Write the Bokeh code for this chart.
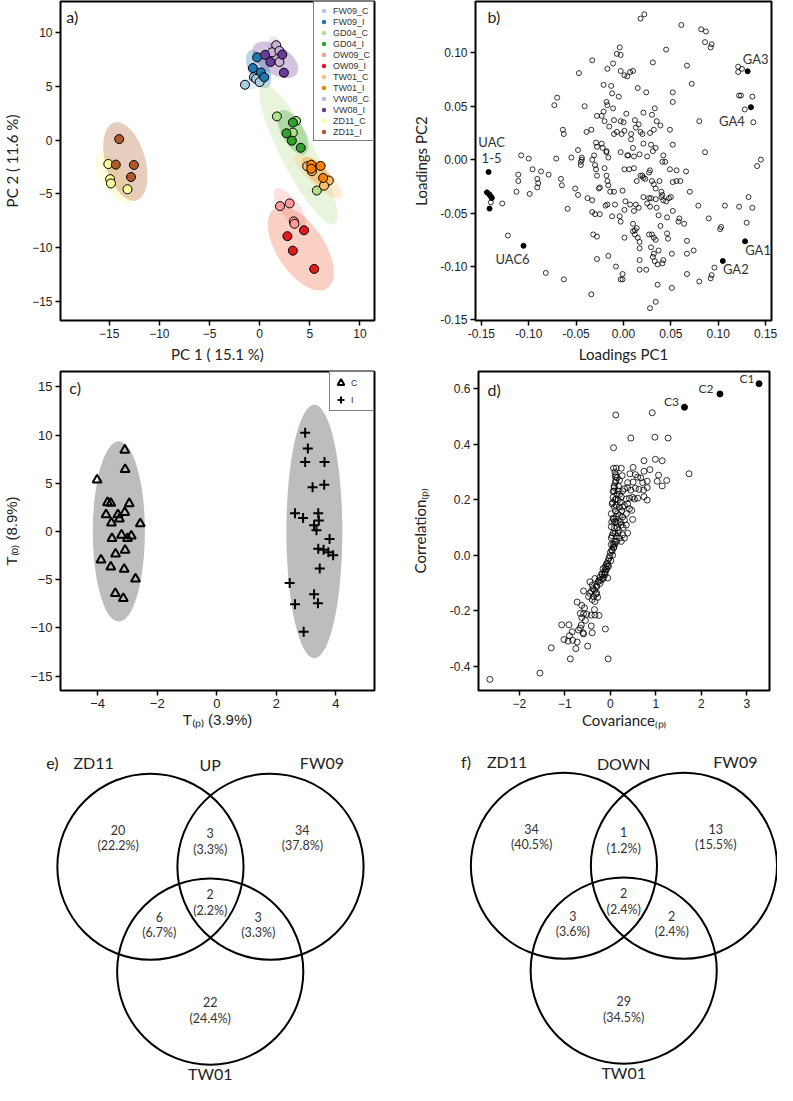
import numpy as np
from bokeh.plotting import figure
from bokeh.layouts import column, row
from bokeh.models import Range1d, FixedTicker, PrintfTickFormatter, Legend, LegendItem, Label
from bokeh.core.properties import value
from bokeh.embed import file_html
from bokeh.resources import INLINE

SANS = "Liberation Sans"
CAL = "Lato"

# ---------------- panel a data (PCA scores) ----------------
pa_groups = ["FW09_C", "FW09_I", "GD04_C", "GD04_I", "OW09_C", "OW09_I",
             "TW01_C", "TW01_I", "VW08_C", "VW08_I", "ZD11_C", "ZD11_I"]
pa_colors = ["#a6cee3", "#1f78b4", "#b2df8a", "#33a02c", "#fb9a99", "#e31a1c",
             "#fdbf6f", "#ff7f00", "#cab2d6", "#6a3d9a", "#ffff99", "#b15928"]
pa_ell_colors = ["#a6cee3", "#1f78b4", "#b2df8a", "#33a02c", "#fb9a99", "#f0603a",
                 "#fdbf6f", "#ff7f00", "#cab2d6", "#6a3d9a", "#ffff99", "#b15928"]
pa_x = [[-1.46, -0.57, -0.35, 0.0], [-0.25, -0.67, 0.13, 0.45],
        [1.72, 3.63, 3.31, 5.7], [3.31, 2.67, 3.21, 4.1],
        [2.03, 2.99, 3.4, 3.47], [2.77, 4.42, 3.31, 5.44],
        [4.74, 5.22, 6.9, 6.42], [5.15, 5.15, 6.08, 6.33],
        [1.65, 1.24, 1.97, 1.97], [0.54, 1.08, 2.26, 2.42],
        [-15.08, -14.9, -14.82, -13.17], [-14.0, -14.34, -12.53, -12.82]]
pa_y = [[5.15, 5.85, 5.7, 5.4], [7.7, 6.7, 6.3, 5.85],
        [2.2, 1.78, 0.69, -4.7], [1.63, 0.63, -0.06, -0.72],
        [-6.15, -5.9, -7.57, -7.8], [-8.95, -8.4, -10.3, -12.0],
        [-2.44, -2.9, -3.77, -4.25], [-2.29, -2.68, -2.41, -3.53],
        [8.83, 8.17, 8.3, 7.27], [7.93, 7.27, 7.96, 6.27],
        [-2.23, -3.64, -4.04, -4.58], [0.09, -2.29, -2.32, -3.44]]
# group ellipses: centre, tip of major axis, minor/major ratio
ell_cx = [-0.35, -0.1, 3.87, 3.31, 2.99, 4.1, 5.85, 5.7, 1.65, 1.56, -14.5, -13.39]
ell_cy = [5.51, 6.6, -1.33, 0.72, -6.3, -10.1, -3.35, -2.98, 8.26, 7.47, -3.59, -1.99]
ell_tx = [1.08, -0.98, 0.29, 2.1, 1.56, 1.45, 3.53, 4.33, 1.27, -0.6, -16.1, -14.5]
ell_ty = [6.15, 8.32, 5.15, 2.74, -4.55, -6.4, -1.38, -1.69, 9.67, 8.74, -1.27, 1.63]
ell_r = [0.4, 0.5, 0.22, 0.45, 0.4, 0.5, 0.3, 0.45, 0.5, 0.55, 0.4, 0.5]

# ---------------- panel b data (loadings) ----------------
b_pts = [
 (0.018,0.132),(0.022,0.136),(0.061,0.126),(0.082,0.122),(0.087,0.120),(0.086,0.110),(0.093,0.108),(0.092,0.105),
 (0.045,0.103),(-0.004,0.105),(-0.033,0.093),(-0.007,0.099),(-0.003,0.098),(0.031,0.091),(0.067,0.088),(0.121,0.087),
 (0.125,0.085),(0.121,0.082),(-0.047,0.081),(-0.017,0.085),(-0.011,0.090),(-0.003,0.083),(0.001,0.079),(0.004,0.078),
 (0.007,0.082),(0.010,0.083),(0.072,0.071),(-0.021,0.070),(-0.013,0.069),(0.015,0.067),(0.024,0.063),(-0.012,0.062),
 (0.052,0.063),(0.052,0.054),(-0.005,0.059),(0.122,0.060),(0.124,0.060),(0.136,0.059),(0.128,0.047),(0.137,0.035),
 (-0.070,0.058),(-0.073,0.051),(-0.041,0.050),(-0.018,0.054),(-0.017,0.051),(-0.011,0.048),(-0.021,0.045),(0.003,0.043),
 (0.033,0.048),(-0.028,0.041),(-0.023,0.041),(-0.020,0.036),(-0.015,0.031),(-0.010,0.037),(-0.003,0.036),(0.000,0.035),
 (0.012,0.037),(0.013,0.030),(0.021,0.044),(0.030,0.042),(0.035,0.036),(0.039,0.032),(0.049,0.028),(0.080,0.036),
 (-0.064,0.028),(-0.063,0.024),(-0.039,0.026),(-0.034,0.028),(-0.010,0.024),(-0.007,0.026),(-0.002,0.024),(0.001,0.027),
 (0.008,0.024),(0.018,0.026),(0.020,0.024),(0.028,0.025),(0.032,0.028),(0.016,0.033),(-0.029,0.016),(-0.028,0.012),
 (-0.023,0.015),(-0.018,0.008),(0.008,0.019),(0.021,0.015),(0.029,0.014),(0.031,0.008),(0.034,0.011),(0.052,0.014),
 (0.086,0.007),(-0.108,0.004),(-0.100,0.001),(-0.071,0.001),(-0.055,0.002),(-0.048,0.009),(-0.044,0.002),(-0.044,0.000),
 (-0.045,-0.002),(-0.045,-0.005),(-0.033,0.000),(-0.031,0.004),(-0.030,-0.005),(-0.022,0.011),(-0.018,0.007),(-0.016,0.002),
 (-0.003,0.007),(0.004,0.004),(0.005,0.004),(0.010,0.011),(0.011,0.003),(0.017,0.005),(0.025,0.003),(0.042,0.004),
 (0.044,-0.002),(0.041,-0.002),(0.145,0.000),(0.141,-0.006),(-0.111,-0.014),(-0.111,-0.020),(-0.113,-0.030),(-0.099,-0.032),
 (-0.096,-0.009),(-0.087,-0.011),(-0.091,-0.018),(-0.090,-0.022),(-0.091,-0.026),(-0.079,-0.014),(-0.066,-0.018),(-0.065,-0.024),
 (-0.051,-0.027),(-0.048,-0.033),(-0.038,-0.036),(-0.033,-0.038),(-0.029,-0.009),(-0.028,-0.015),(-0.026,-0.027),(-0.025,-0.026),
 (-0.020,-0.008),(-0.018,-0.015),(-0.017,-0.020),(-0.016,-0.024),(-0.014,-0.030),(-0.010,-0.030),(-0.001,-0.029),(0.001,-0.009),
 (0.006,-0.009),(0.011,-0.008),(0.014,-0.020),(0.018,-0.015),(0.020,-0.015),(0.021,-0.017),(0.023,-0.018),(0.027,-0.012),
 (0.028,-0.010),(0.030,-0.020),(0.032,-0.023),(0.034,-0.027),(0.038,-0.020),(0.040,-0.030),(0.041,-0.033),(0.049,-0.009),
 (0.052,-0.021),(0.056,-0.020),(0.060,-0.020),(0.056,-0.010),(0.066,-0.011),(0.070,-0.030),(-0.059,-0.046),(-0.033,-0.049),
 (-0.030,-0.051),(-0.025,-0.051),(-0.019,-0.043),(-0.017,-0.042),(-0.012,-0.053),(-0.009,-0.042),(-0.004,-0.053),(-0.003,-0.058),
 (0.001,-0.047),(0.002,-0.039),(0.007,-0.042),(0.011,-0.048),(0.010,-0.060),(0.013,-0.042),(0.016,-0.045),(0.021,-0.035),
 (0.025,-0.041),(0.027,-0.036),(0.029,-0.036),(0.028,-0.044),(0.034,-0.037),(0.035,-0.045),(0.037,-0.052),(0.040,-0.035),
 (0.042,-0.038),(0.045,-0.039),(0.048,-0.036),(0.050,-0.035),(0.052,-0.048),(0.046,-0.054),(0.059,-0.055),(0.058,-0.058),
 (0.064,-0.060),(0.039,-0.062),(0.079,-0.043),(0.090,-0.055),(0.102,-0.065),(0.103,-0.063),(0.107,-0.043),(0.122,-0.044),
 (0.132,-0.035),(0.130,-0.059),(0.136,-0.045),(-0.122,-0.071),(-0.032,-0.070),(-0.028,-0.072),(0.001,-0.073),(0.010,-0.067),
 (0.012,-0.070),(0.015,-0.073),(0.017,-0.077),(0.027,-0.070),(0.030,-0.070),(0.032,-0.073),(0.034,-0.075),(0.046,-0.069),
 (0.047,-0.074),(0.067,-0.076),(0.074,-0.085),(0.012,-0.066),(0.014,-0.064),(-0.028,-0.093),(-0.016,-0.090),(-0.008,-0.100),
 (-0.001,-0.107),(-0.003,-0.112),(-0.001,-0.112),(0.017,-0.094),(0.017,-0.103),(0.024,-0.103),(0.017,-0.083),(0.029,-0.082),
 (0.032,-0.088),(0.031,-0.091),(0.033,-0.095),(0.036,-0.098),(0.042,-0.094),(0.041,-0.097),(0.037,-0.085),(0.051,-0.088),
 (0.067,-0.088),(0.067,-0.107),(0.080,-0.114),(0.093,-0.108),(0.092,-0.111),(0.096,-0.101),(0.036,-0.117),(0.051,-0.120),
 (-0.082,-0.106),(-0.063,-0.112),(-0.034,-0.126),(0.028,-0.139),(0.034,-0.133),(-0.140,-0.040),(-0.128,-0.041)]
b_x = [p[0] for p in b_pts]
b_y = [p[1] for p in b_pts]
b_fx = [-0.1424, -0.1441, -0.1417, -0.1400, -0.1390, -0.1414, -0.1055, 0.131, 0.1345, 0.1283, 0.1048]
b_fy = [-0.0115, -0.0306, -0.0324, -0.0345, -0.0358, -0.0458, -0.0806, 0.0827, 0.0491, -0.0764, -0.0948]
b_lab = ["UAC", "1-5", "UAC6", "GA3", "GA4", "GA1", "GA2"]
b_lab_of = [0, 0, 6, 7, 8, 9, 10]

# ---------------- panel c data (OPLS-DA scores) ----------------
c_tx = [-4.02, -3.09, -3.08, -3.67, -3.56, -2.94, -3.72, -3.32, -3.09, -3.54, -3.27, -2.57,
        -3.20, -3.52, -2.87, -3.0, -3.08, -3.40, -3.89, -3.56, -3.11, -2.73, -3.41, -3.14]
c_ty = [5.35, 8.45, 6.43, 3.0, 2.93, 2.9, 1.75, 1.75, 1.99, 0.88, 1.31, 0.81,
        -0.37, -0.71, -0.47, -0.71, -1.95, -2.32, -2.96, -3.67, -3.91, -4.92, -6.43, -6.94]
c_ix = [2.97, 3.06, 2.97, 3.62, 3.22, 3.61, 2.63, 2.90, 3.41, 3.43, 3.27, 3.35, 3.79, 3.41,
        3.59, 3.75, 3.91, 3.46, 2.45, 3.27, 2.63, 3.40, 2.92]
c_iy = [10.24, 8.62, 7.2, 7.2, 4.58, 4.85, 1.89, 1.41, 1.89, 1.14, 0.64, 0.13, -0.77, -1.78,
        -1.89, -2.15, -2.46, -3.84, -5.35, -6.5, -7.54, -7.44, -10.4]
c_ell_x = [-3.29, 3.28]
c_ell_y = [0.0, 0.0]
c_ell_w = [1.75, 1.88]
c_ell_h = [18.7, 26.3]

# ---------------- panel d data (S-plot) ----------------
d_pts = [
 (0.12,0.506),(0.92,0.514),(0.45,0.423),(0.98,0.426),(1.27,0.423),(0.07,0.388),(0.74,0.341),(0.99,0.346),(1.14,0.341),(1.73,0.294),
 (0.07,0.314),(0.13,0.314),(0.24,0.314),(0.50,0.317),(0.11,0.283),(0.26,0.287),(0.43,0.294),(0.55,0.291),(0.60,0.282),(0.67,0.279),
 (0.74,0.303),(0.87,0.309),(1.06,0.289),(1.24,0.27),(1.03,0.267),(1.14,0.25),(0.81,0.267),(0.71,0.262),(0.50,0.264),(0.38,0.262),
 (0.11,0.262),(0.09,0.244),(0.17,0.232),(0.27,0.232),(0.31,0.240),(0.38,0.244),(0.45,0.235),(0.55,0.242),(0.63,0.238),(0.73,0.235),
 (0.81,0.244),(0.08,0.232),(0.06,0.209),(0.13,0.203),(0.24,0.211),(0.35,0.203),(0.42,0.206),(0.49,0.209),(0.53,0.203),(0.60,0.206),
 (0.74,0.211),(0.81,0.199),(0.04,0.185),(0.09,0.174),(0.20,0.174),(0.27,0.174),(0.31,0.179),(0.38,0.185),(0.42,0.168),(0.47,0.162),
 (0.20,0.144),(0.27,0.138),(0.35,0.150),(0.49,0.129),(0.02,0.150),(0.06,0.133),(0.09,0.121),(0.17,0.115),(0.24,0.109),(0.31,0.127),
 (0.35,0.109),(0.09,0.097),(0.02,0.103),(0.06,0.080),(0.17,0.080),(0.27,0.074),(0.38,0.080),(0.31,0.062),(0.20,0.062),(0.13,0.068),
 (0.02,0.062),(0.09,0.050),(0.02,0.039),(0.07,0.027),(0.04,0.015),(-0.01,-0.002),(-0.05,-0.020),(-0.09,-0.032),(-0.12,-0.043),
 (-0.16,-0.049),(-0.06,-0.038),(-0.11,-0.061),(-0.19,-0.067),(-0.23,-0.079),(-0.16,-0.084),(-0.06,-0.082),(-0.27,-0.096),
 (-0.45,-0.096),(-0.34,-0.084),(-0.40,-0.108),(-0.30,-0.114),(-0.23,-0.102),(-0.35,-0.126),(-0.45,-0.137),(-0.30,-0.137),
 (-0.37,-0.149),(-0.48,-0.149),(-0.28,-0.152),(-0.34,-0.167),(-0.59,-0.129),(-0.73,-0.169),(-0.63,-0.181),(-0.57,-0.190),
 (-0.35,-0.196),(0.10,0.30),(0.12,0.27),(0.08,0.25),(0.14,0.22),(0.05,0.19),(0.11,0.16),(0.07,0.13),(0.15,0.10),(0.04,0.07),
 (0.10,0.04),(0.03,0.02),(0.0,0.01),(-0.03,-0.01),(-0.07,-0.03),(-0.1,-0.05),(-0.13,-0.06),(-0.18,-0.07),(-0.2,-0.09),
 (-0.25,-0.09),(-0.31,-0.11),(-0.38,-0.12),(-0.42,-0.13),(-0.32,-0.14),(-0.4,-0.16),
 (0.15,0.28),(0.18,0.25),(0.20,0.22),(0.22,0.19),(0.13,0.18),(0.16,0.15),(0.12,0.12),(0.18,0.09),(0.10,0.08),(0.14,0.05),
 (0.08,0.03),(0.05,0.00),(0.01,-0.02),(-0.04,-0.04),(-0.08,-0.05),(-0.12,-0.07),(-0.15,-0.08),(0.20,0.27),(0.17,0.20),
 (0.25,0.16),(0.22,0.12),(0.28,0.10),(0.24,0.05),(0.12,0.29),(0.06,0.23),(0.10,0.20),(0.03,0.12),(0.13,0.14),(0.06,0.04),
 (-0.42,-0.216),(-0.34,-0.216),(-0.25,-0.217),(-0.66,-0.210),(-0.59,-0.211),(-0.52,-0.213),(-0.63,-0.225),(-0.55,-0.235),
 (-1.07,-0.251),(-0.91,-0.251),(-0.64,-0.252),(-0.42,-0.255),(-0.66,-0.263),(-0.70,-0.270),(-0.84,-0.276),(-0.60,-0.280),
 (-0.59,-0.284),(-0.40,-0.280),(-0.11,-0.266),(-0.90,-0.290),(-1.02,-0.304),(-0.93,-0.310),(-0.83,-0.307),(-0.73,-0.313),
 (-0.50,-0.328),(-1.30,-0.334),(-0.76,-0.337),(-0.88,-0.374),(-0.05,-0.374),(-1.55,-0.425),(-2.65,-0.448)]
d_x = [p[0] for p in d_pts]
d_y = [p[1] for p in d_pts]
d_fx = [3.27, 2.41, 1.63]
d_fy = [0.619, 0.582, 0.534]
d_lab = ["C1", "C2", "C3"]

# ---------------- panels e/f data (Venn) ----------------
venn_sets = ["ZD11", "FW09", "TW01"]
venn_regions = ["ZD11", "ZD11&FW09", "FW09", "ZD11&FW09&TW01", "ZD11&TW01", "FW09&TW01", "TW01"]
up_counts = [20, 3, 34, 2, 6, 3, 22]
down_counts = [34, 1, 13, 2, 3, 2, 29]

NAN = np.array([np.nan])


# ---------------- helpers ----------------
def mkfig(w, h, l, r, t, b, xr, yr):
    p = figure(width=w, height=h, x_range=Range1d(*xr), y_range=Range1d(*yr),
               output_backend="svg", toolbar_location=None,
               min_border_left=l, min_border_right=r, min_border_top=t, min_border_bottom=b)
    p.outline_line_color = "black"
    p.outline_line_width = 2
    p.outline_line_alpha = 1
    p.xgrid.visible = False
    p.ygrid.visible = False
    p.background_fill_color = "white"
    return p


def style_axes(p, xticks, yticks, tick_size, xlab, ylab, xstand, ystand, lab_font=CAL, xfmt=None, yfmt=None):
    p.xaxis.ticker = FixedTicker(ticks=xticks)
    p.yaxis.ticker = FixedTicker(ticks=yticks)
    if xfmt:
        p.xaxis.formatter = PrintfTickFormatter(format=xfmt)
    if yfmt:
        p.yaxis.formatter = PrintfTickFormatter(format=yfmt)
    p.xaxis.axis_label = xlab
    p.yaxis.axis_label = ylab
    p.xaxis.axis_label_standoff = xstand
    p.yaxis.axis_label_standoff = ystand
    for ax in (p.xaxis[0], p.yaxis[0]):
        ax.axis_line_color = None
        ax.major_tick_out = 5
        ax.major_tick_in = 0
        ax.minor_tick_out = 0
        ax.minor_tick_in = 0
        ax.major_tick_line_width = 1.5
        ax.major_tick_line_color = "black"
        ax.major_label_text_font = SANS
        ax.major_label_text_font_size = tick_size
        ax.major_label_text_color = "#222222"
        ax.major_label_standoff = 3
        ax.axis_label_text_font = lab_font
        ax.axis_label_text_font_size = "15px"
        ax.axis_label_text_font_style = "normal"
        ax.axis_label_text_color = "#222222"


def panel_label(p, txt, xr, yr, fw, fh, dx, dy):
    kx = fw / (xr[1] - xr[0])
    ky = fh / (yr[1] - yr[0])
    p.add_layout(Label(x=xr[0] + dx / kx, y=yr[1] - dy / ky, text=txt, text_font=CAL,
                       text_font_size="16px", text_color="#222222",
                       text_align="left", text_baseline="middle"))


# ---------------- panel a ----------------
A_XR, A_YR = (-19.85, 11.45), (-16.8, 12.9)
A_FW, A_FH = 321, 320
pa = mkfig(392, 365, 53, 18, 1, 44, A_XR, A_YR)
style_axes(pa, [-15, -10, -5, 0, 5, 10], [-15, -10, -5, 0, 5, 10], "12px",
           "PC 1 ( 15.1 %)", "PC 2 ( 11.6 %)", 4, 8)
kx = A_FW / (A_XR[1] - A_XR[0])
ky = A_FH / (A_YR[1] - A_YR[0])
t = np.linspace(0, 2 * np.pi, 90)
exs, eys = [], []
for cx, cy, tx, ty, r in zip(ell_cx, ell_cy, ell_tx, ell_ty, ell_r):
    ux, uy = (tx - cx) * kx, (ty - cy) * ky
    vx, vy = -uy * r, ux * r
    exs.append(list(cx + (ux * np.cos(t) + vx * np.sin(t)) / kx))
    eys.append(list(cy + (uy * np.cos(t) + vy * np.sin(t)) / ky))
pa.patches(exs, eys, fill_color=pa_ell_colors, fill_alpha=0.3, line_color=None)
items = []
for g, c, xs, ys in zip(pa_groups, pa_colors, pa_x, pa_y):
    pa.scatter(xs, ys, marker="circle", size=9, fill_color=c, line_color="black", line_width=1)
    lr = pa.scatter(NAN, NAN, marker="circle", fill_color=c, line_color=None)
    items.append(LegendItem(label=g, renderers=[lr]))
leg = Legend(items=items, location="top_right", margin=0, padding=3, spacing=0,
             glyph_height=11, glyph_width=13, label_height=11, label_standoff=3,
             label_text_font=SANS, label_text_font_size="9px", label_text_color="#333333",
             border_line_color="black", border_line_width=1.5, background_fill_alpha=1)
pa.add_layout(leg)
panel_label(pa, "a)", A_XR, A_YR, A_FW, A_FH, 6, 15)

# ---------------- panel b ----------------
B_XR, B_YR = (-0.1562, 0.1562), (-0.1505, 0.148)
pb = mkfig(385, 365, 83, 6, 1, 44, B_XR, B_YR)
style_axes(pb, [-0.15, -0.10, -0.05, 0.0, 0.05, 0.10, 0.15], [-0.15, -0.10, -0.05, 0.0, 0.05, 0.10],
           "12px", "Loadings PC1", "Loadings PC2", 4, 7, xfmt="%.2f", yfmt="%.2f")
pb.scatter(b_x, b_y, marker="circle", size=5, fill_color=None, line_color="black", line_width=0.8)
pb.scatter(b_fx, b_fy, marker="circle", size=5, fill_color="black", line_color="black")
b_offx = [3, 3, -11, 8, -19, 13, 13]
b_offy = [-30, -14, 13, -12, 14, 9, 8]
pb.text(x=[b_fx[i] for i in b_lab_of], y=[b_fy[i] for i in b_lab_of], text=b_lab,
        x_offset=b_offx, y_offset=b_offy, text_align="center", text_baseline="middle",
        text_font=value(CAL), text_font_size="13px", text_color="#333333")
panel_label(pb, "b)", B_XR, B_YR, 296, 320, 12, 15)

# ---------------- panel c ----------------
C_XR, C_YR = (-5.25, 5.3), (-16.5, 16.6)
pc = mkfig(392, 366, 52, 18, 5, 41, C_XR, C_YR)
style_axes(pc, [-4, -2, 0, 2, 4], [-15, -10, -5, 0, 5, 10, 15], "13px",
           "T\u208d\u209a\u208e (3.9%)", "T\u208d\u2092\u208e (8.9%)", 0, 7, lab_font=SANS)
pc.ellipse(c_ell_x, c_ell_y, width=c_ell_w, height=c_ell_h, fill_color="#bfbcbd", line_color=None)
pc.scatter(c_tx, c_ty, marker="triangle", size=9, fill_color=None, line_color="black", line_width=2)
pc.scatter(c_ix, c_iy, marker="cross", size=10, line_color="black", line_width=2)
lt = pc.scatter(NAN, NAN, marker="triangle", fill_color=None, line_color="black", line_width=2)
lc = pc.scatter(NAN, NAN, marker="cross", line_color="black", line_width=2)
legc = Legend(items=[LegendItem(label="C", renderers=[lt]), LegendItem(label="I", renderers=[lc])],
              location="top_right", margin=0, padding=2, spacing=0,
              glyph_height=17, glyph_width=17, label_height=17, label_standoff=2,
              label_text_font=SANS, label_text_font_size="9px", label_text_color="#333333",
              border_line_color="black", border_line_width=1.5, background_fill_alpha=1)
pc.add_layout(legc)
panel_label(pc, "c)", C_XR, C_YR, 322, 320, 9, 16)

# ---------------- panel d ----------------
D_XR, D_YR = (-2.9, 3.5), (-0.488, 0.663)
pd_ = mkfig(385, 366, 86, 8, 6, 40, D_XR, D_YR)
style_axes(pd_, [-2, -1, 0, 1, 2, 3], [-0.4, -0.2, 0.0, 0.2, 0.4, 0.6], "12px",
           "Covariance\u208d\u209a\u208e", "Correlation\u208d\u209a\u208e", 0, 18, yfmt="%.1f")
pd_.scatter(d_x, d_y, marker="circle", size=6, fill_color=None, line_color="black", line_width=0.8)
pd_.scatter(d_fx, d_fy, marker="circle", size=6, fill_color="black", line_color="black")
pd_.text(x=d_fx, y=d_fy, text=d_lab, x_offset=[-12, -14, -13], y_offset=[-5, -5, -6],
         text_align="center", text_baseline="middle", text_font=value(CAL),
         text_font_size="12px", text_color="#333333")
panel_label(pd_, "d)", D_XR, D_YR, 291, 320, 9, 18)

# ---------------- panels e/f (Venn) ----------------
V_H = 354
V_TOP = 745
V_BOT = V_TOP + V_H / 0.98


def venn(x0, x1, w, cx, cy, counts, title, letter):
    p = figure(width=w, height=V_H, x_range=Range1d(x0, x1), y_range=Range1d(V_BOT, V_TOP),
               output_backend="svg", toolbar_location=None, x_axis_location=None,
               y_axis_location=None, min_border=0)
    p.outline_line_color = None
    p.xgrid.visible = False
    p.ygrid.visible = False
    circ_off = [(-61, -53.5), (61.5, -53.5), (0, 53.5)]
    p.circle([cx + o[0] for o in circ_off], [cy + o[1] for o in circ_off], radius=95,
             fill_color=None, line_color="black", line_width=2)
    reg_off = [(-94, -91.5), (0, -87.5), (94, -91.5), (0, -25.5), (-52, -2.5), (49, -2.5), (0, 84.5)]
    total = sum(counts)
    nums = [str(c) for c in counts]
    pcts = ["(%.1f%%)" % (100.0 * c / total) for c in counts]
    p.text([cx + o[0] for o in reg_off], [cy + o[1] for o in reg_off], text=nums,
           text_align="center", text_baseline="middle", text_font=value(CAL),
           text_font_size="12.5px", text_color="#333333")
    p.text([cx + o[0] for o in reg_off], [cy + o[1] + 16.5 for o in reg_off], text=pcts,
           text_align="center", text_baseline="middle", text_font=value(CAL),
           text_font_size="12.5px", text_color="#333333")
    lab_off = [(-119, -159.5), (114, -159.5), (0, 157)]
    p.text([cx + o[0] for o in lab_off], [cy + o[1] for o in lab_off], text=venn_sets,
           text_align="center", text_baseline="middle", text_font=value(CAL),
           text_font_size="16px", text_color="#222222")
    p.text([cx, cx - 161], [cy - 157.5, cy - 159.5], text=[title, letter],
           text_align="center", text_baseline="middle", text_font=value(CAL),
           text_font_size="16px", text_color="#222222")
    return p


pe = venn(0, 400, 392, 214, 936.5, up_counts, "UP", "e)")
pf = venn(400, 793, 385, 636, 935.5, down_counts, "DOWN", "f)")

layout = column(row(pa, pb), row(pc, pd_), row(pe, pf))
open("out.html", "w").write(file_html(layout, INLINE))
